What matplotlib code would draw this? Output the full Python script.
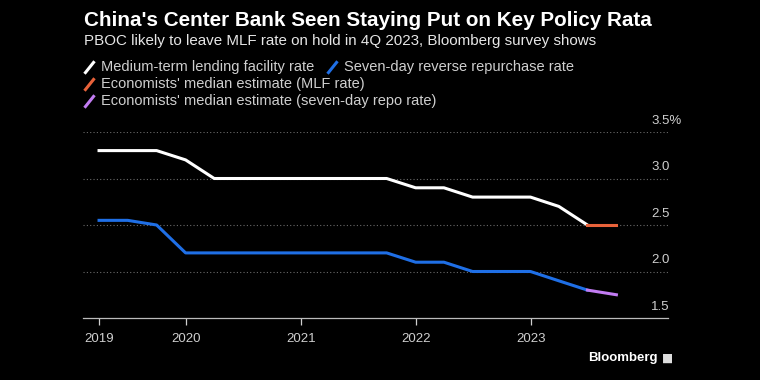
import matplotlib.pyplot as plt
import matplotlib.path as mpath
from matplotlib.lines import Line2D
import matplotlib.transforms as mtransforms
import pandas as pd

# quarterly readings (end of quarter)
dates = pd.to_datetime(['2019-03-31', '2019-06-30', '2019-09-30', '2019-12-31',
                        '2020-03-31', '2020-06-30', '2020-09-30', '2020-12-31',
                        '2021-03-31', '2021-06-30', '2021-09-30', '2021-12-31',
                        '2022-03-31', '2022-06-30', '2022-09-30', '2022-12-31',
                        '2023-03-31', '2023-06-30'])
mlf = [3.3, 3.3, 3.3, 3.2, 3.0, 3.0, 3.0, 3.0, 3.0, 3.0, 3.0, 2.9,
       2.9, 2.8, 2.8, 2.8, 2.7, 2.5]
repo = [2.55, 2.55, 2.5, 2.2, 2.2, 2.2, 2.2, 2.2, 2.2, 2.2, 2.2, 2.1,
        2.1, 2.0, 2.0, 2.0, 1.9, 1.8]

# survey estimates for 4Q 2023
est_dates = pd.to_datetime(['2023-06-30', '2023-09-30'])
mlf_est = [2.5, 2.5]
repo_est = [1.8, 1.75]

y_ticks = [1.5, 2.0, 2.5, 3.0, 3.5]
y_labels = ['1.5', '2.0', '2.5', '3.0', '3.5%']
years = ['2019', '2020', '2021', '2022', '2023']
year_ticks = pd.to_datetime(['2019-03-31', '2020-01-01', '2021-01-01', '2022-01-01', '2023-01-01'])

legend_labels = ['Medium-term lending facility rate', 'Seven-day reverse repurchase rate',
                 "Economists' median estimate (MLF rate)",
                 "Economists' median estimate (seven-day repo rate)"]

WHITE = '#ffffff'
BLUE = '#1f6fe6'
ORANGE = '#e8623a'
PURPLE = '#c27cf2'
TXT = '#cfcfcf'

plt.rcParams['font.family'] = ['Liberation Sans', 'DejaVu Sans']

fig = plt.figure(figsize=(7.6, 3.8), dpi=100, facecolor='black')
ax = fig.add_axes([83 / 760, 1 - 318 / 380, 585 / 760, 186 / 380])
ax.set_facecolor('black')

ax.plot(dates, mlf, color=WHITE, lw=2.2, solid_joinstyle='round', zorder=3)
ax.plot(dates, repo, color=BLUE, lw=2.2, solid_joinstyle='round', zorder=3)
ax.plot(est_dates, mlf_est, color=ORANGE, lw=2.2, zorder=3)
ax.plot(est_dates, repo_est, color=PURPLE, lw=2.2, zorder=3)

ax.set_ylim(1.5, 3.5)
ax.set_xlim(pd.Timestamp('2019-02-08'), pd.Timestamp('2024-03-12'))

# gridlines and right-side labels sitting above them
trans = mtransforms.blended_transform_factory(ax.transAxes, ax.transData)
for v, lab in zip(y_ticks, y_labels):
    if v > 1.5:
        ax.axhline(v, color='#6a6a6a', lw=0.8, ls=(0, (1, 2)), zorder=1)
    ax.text(0.971, v + 0.055, lab, transform=trans, color=TXT, fontsize=9.5,
            ha='left', va='bottom')

ax.set_yticks([])
for s in ['top', 'right', 'left']:
    ax.spines[s].set_visible(False)
ax.spines['bottom'].set_color('#bbbbbb')
ax.spines['bottom'].set_linewidth(0.9)
ax.set_xticks(year_ticks)
ax.set_xticklabels(years)
ax.tick_params(axis='x', colors=TXT, labelsize=9.5, length=5, width=0.9, pad=6)
for t in ax.get_xticklines():
    t.set_color('#bbbbbb')

# titles
fig.text(84 / 760, 1 - 20 / 380, "China's Center Bank Seen Staying Put on Key Policy Rata",
         color='white', fontsize=14.9, fontweight='bold', va='center', ha='left')
fig.text(84 / 760, 1 - 40.5 / 380,
         'PBOC likely to leave MLF rate on hold in 4Q 2023, Bloomberg survey shows',
         color='#e6e6e6', fontsize=10.9, va='center', ha='left')

# legend with slash markers
slash = mpath.Path([[-0.8, -1], [0.8, 1]])
legend_pos = [(89, 67), (332, 67), (89, 84), (89, 100.5)]
legend_cols = [WHITE, BLUE, ORANGE, PURPLE]
for (lx, ly), col, lab in zip(legend_pos, legend_cols, legend_labels):
    fig.add_artist(Line2D([lx / 760], [1 - ly / 380], marker=slash, markersize=9,
                          markeredgewidth=2.2, color=col, linestyle='none',
                          transform=fig.transFigure))
    fig.text((lx + 12) / 760, 1 - ly / 380, lab, color=TXT, fontsize=10.5,
             va='center', ha='left')

fig.text(658 / 760, 1 - 358 / 380, 'Bloomberg', color='white', fontsize=9.5,
         fontweight='bold', ha='right', va='center')
fig.text(668 / 760, 1 - 358 / 380, '\u25a0', color='#dddddd', fontsize=8.5,
         family=['DejaVu Sans'], ha='center', va='center')

fig.savefig('out.png', dpi=100, facecolor='black')
